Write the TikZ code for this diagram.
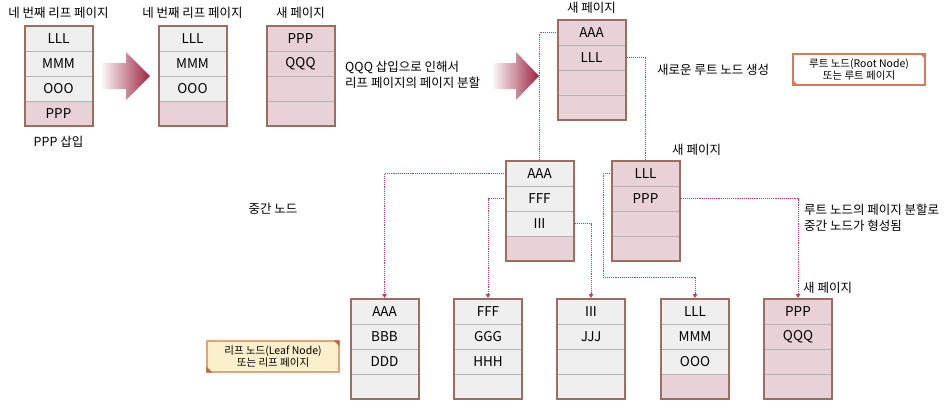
\documentclass[tikz,border=0pt]{standalone}
\usepackage{fontspec}
\setmainfont{Noto Sans CJK KR}
\usetikzlibrary{fit,arrows.meta}
\definecolor{cellgray}{HTML}{EFEFEF}
\definecolor{cellpink}{HTML}{E8D2D8}
\definecolor{sepgray}{HTML}{B4B4B4}
\definecolor{framebrown}{HTML}{9A6E60}
\definecolor{linkred}{HTML}{B8405E}
\definecolor{arrowred}{HTML}{9C2440}
\definecolor{rootedge}{HTML}{D8795A}
\definecolor{leaffill}{HTML}{FCEFCB}
\definecolor{leafedge}{HTML}{E2A27C}
\definecolor{leafcorner}{HTML}{C86440}
\newcommand\pagebox[4]{%
  \foreach \cf/\ct [count=\i] in {#4} {
    \node[cell,fill=\cf] (#1-\i) at ({#2},{#3+\i*25-12.5}) {\ct};
  }
  \node[frame, fit=(#1-1)(#1-4)] (#1) {};
}
\begin{document}
\begin{tikzpicture}[x=1pt,y=-1pt,
  cell/.style={draw=sepgray, line width=0.8pt, minimum width=68pt, minimum height=25pt,
    inner sep=0pt, outer sep=0pt, font=\fontsize{13.5}{15}\selectfont},
  frame/.style={draw=framebrown, line width=2pt, inner sep=0pt},
  title/.style={font=\fontsize{12.5}{14}\selectfont, inner sep=1pt},
  label/.style={font=\fontsize{12.5}{16}\selectfont, align=left, inner sep=1pt},
  note/.style={line width=1.2pt, minimum width=132pt, minimum height=31pt, align=center,
    inner sep=1pt, font=\fontsize{10.5}{12}\selectfont},
  link/.style={draw=linkred, densely dotted, line width=0.9pt},
  linkarrow/.style={link, -{Triangle[length=4pt,width=4.5pt]}},
  bigarrow/.style={left color=arrowred!4, right color=arrowred}
]
\useasboundingbox (0,0) rectangle (950,413);

% top row pages
\pagebox{p1}{58.5}{26}{cellgray/LLL, cellgray/MMM, cellgray/OOO, cellpink/PPP}
\pagebox{p2}{192.5}{26}{cellgray/LLL, cellgray/MMM, cellgray/OOO, cellpink/{}}
\pagebox{p3}{300.5}{26}{cellpink/PPP, cellpink/QQQ, cellpink/{}, cellpink/{}}
\pagebox{root}{591.5}{20}{cellpink/AAA, cellpink/LLL, cellpink/{}, cellpink/{}}

% intermediate
\pagebox{m1}{539.5}{161}{cellgray/AAA, cellgray/FFF, cellgray/III, cellpink/{}}
\pagebox{m2}{645.5}{161}{cellpink/LLL, cellpink/PPP, cellpink/{}, cellpink/{}}

% leaves
\pagebox{l1}{384.5}{299}{cellgray/AAA, cellgray/BBB, cellgray/DDD, cellgray/{}}
\pagebox{l2}{488}{299}{cellgray/FFF, cellgray/GGG, cellgray/HHH, cellgray/{}}
\pagebox{l3}{591}{299}{cellgray/III, cellgray/JJJ, cellgray/{}, cellgray/{}}
\pagebox{l4}{695}{299}{cellgray/LLL, cellgray/MMM, cellgray/OOO, cellpink/{}}
\pagebox{l5}{798}{299}{cellpink/PPP, cellpink/QQQ, cellpink/{}, cellpink/{}}

% titles and labels
\node[title] (t1) at (58.5,13) {네 번째 리프 페이지};
\node[title] (t2) at (192.5,13) {네 번째 리프 페이지};
\node[title] (t3) at (300.5,13) {새 페이지};
\node[title] (t4) at (591.5,8) {새 페이지};
\node[title, anchor=west] (t5) at (671,150) {새 페이지};
\node[title, anchor=west] (t6) at (802,288) {새 페이지};
\node[title] (ins) at (58.5,142) {PPP 삽입};
\node[label, anchor=west] (split) at (344,75) {QQQ 삽입으로 인해서\\리프 페이지의 페이지 분할};
\node[label, anchor=west] (newroot) at (656,70) {새로운 루트 노드 생성};
\node[label] (mid) at (273,209) {중간 노드};
\node[label, anchor=west] (form) at (803,218) {루트 노드의 페이지 분할로\\중간 노드가 형성됨};

% notes
\node[note, fill=white, draw=rootedge] (rootnote) at (859,69.5) {루트 노드(Root Node)\\또는 루트 페이지};
\fill[rootedge] (rootnote.north east) -- ++(-6,0) -- ++(6,6) -- cycle;
\fill[rootedge] (rootnote.south west) -- ++(6,0) -- ++(-6,-6) -- cycle;
\node[note, fill=leaffill, draw=leafedge] (leafnote) at (273,356.5) {리프 노드(Leaf Node)\\또는 리프 페이지};
\fill[leafcorner] (leafnote.north east) -- ++(-6,0) -- ++(6,6) -- cycle;
\fill[leafcorner] (leafnote.south west) -- ++(6,0) -- ++(-6,-6) -- cycle;

% big arrows
\shade[bigarrow] (102,63) -- (126,63) -- (126,52) -- (150,76) -- (126,100) -- (126,89) -- (102,89) -- cycle;
\shade[bigarrow] (493,63) -- (516,63) -- (516,52) -- (539,76) -- (516,100) -- (516,89) -- (493,89) -- cycle;

% connectors
\draw[link] (root-1.west) -| (m1.north);
\draw[link] (root-2.east) -| (m2.north);
\draw[linkarrow] (m1-1.west) -| (l1.north);
\draw[linkarrow] (m1-2.west) -| (l2.north);
\draw[linkarrow] (m1-3.east) -| (l3.north);
\coordinate (bend) at (603,277);
\draw[linkarrow] (m2-1.west) -| (bend) -| (l4.north);
\draw[linkarrow] (m2-2.east) -| (l5.north);
\end{tikzpicture}
\end{document}
